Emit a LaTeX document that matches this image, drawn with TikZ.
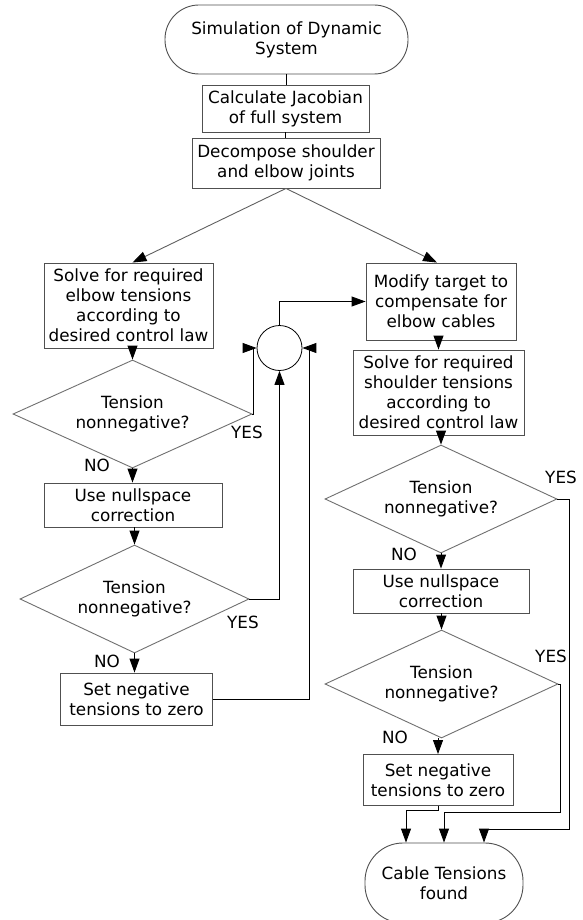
\documentclass[tikz,border=0pt]{standalone}
\usepackage{fontspec}
\setmainfont{DejaVu Sans}
\usetikzlibrary{arrows.meta,shapes.geometric}
\definecolor{boxc}{HTML}{505050}
\definecolor{diac}{HTML}{707070}
\definecolor{diagc}{HTML}{606060}
\begin{document}
\begin{tikzpicture}[x=1pt,y=-1pt,
  every node/.style={font=\fontsize{16.8}{20}\selectfont, text=black},
  box/.style={draw=boxc, line width=0.9pt, rectangle, align=center, inner sep=0pt},
  term/.style={box, rounded corners=34pt},
  decision/.style={draw=diac, line width=0.9pt, diamond, shape aspect=2.2, inner sep=0pt, align=center},
  conn/.style={line width=0.9pt, draw=black},
  arr/.style={conn, -{Triangle[length=14pt,width=10pt]}},
  diag/.style={line width=0.9pt, draw=diagc, -{Triangle[length=14pt,width=10pt,color=black,fill=black]}},
  lbl/.style={inner sep=0pt}
]
\useasboundingbox (0,0) rectangle (583,920);
\clip (0,0) rectangle (583,920);
\fill[white] (0,0) rectangle (583,920);

% top column
\node[term, minimum width=243pt, minimum height=69pt] (term1) at (286.5,39.5) {Simulation of Dynamic\\System};
\node[box, minimum width=167pt, minimum height=47pt] (jac) at (285.5,108.5) {Calculate Jacobian\\of full system};
\node[box, minimum width=188pt, minimum height=50pt] (decomp) at (286,163) {Decompose shoulder\\and elbow joints};

% left column
\node[box, minimum width=169pt, minimum height=85pt] (lsolve) at (128.5,305.5) {Solve for required\\elbow tensions\\according to\\desired control law};
\node[decision, minimum width=239pt, minimum height=108pt] (ld1) at (132.5,414) {Tension\\nonnegative?};
\node[box, minimum width=178pt, minimum height=44pt] (lnull) at (133,505) {Use nullspace\\correction};
\node[decision, minimum width=229pt, minimum height=108pt] (ld2) at (134.5,599) {Tension\\nonnegative?};
\node[box, minimum width=152pt, minimum height=52pt] (lset) at (136.5,699) {Set negative\\tensions to zero};

% junction circle
\node[draw=black, line width=0.8pt, circle, minimum size=45pt, inner sep=0pt] (circ) at (279.5,348) {};

% right column
\node[box, minimum width=150pt, minimum height=77pt] (mod) at (441,301.5) {Modify target to\\compensate for\\elbow cables};
\node[box, minimum width=171pt, minimum height=85pt] (rsolve) at (438.5,392.5) {Solve for required\\shoulder tensions\\according to\\desired control law};
\node[decision, minimum width=232pt, minimum height=108pt] (rd1) at (441,499) {Tension\\nonnegative?};
\node[box, minimum width=176pt, minimum height=44pt] (rnull) at (441,591) {Use nullspace\\correction};
\node[decision, minimum width=233pt, minimum height=108pt] (rd2) at (441.5,684) {Tension\\nonnegative?};
\node[box, minimum width=150pt, minimum height=51pt] (rset) at (438,780) {Set negative\\tensions to zero};
\node[term, rounded corners=38pt, minimum width=158pt, minimum height=80pt] (term2) at (444,883) {Cable Tensions\\found};

% labels
\node[lbl] (yes1) at (247,432) {YES};
\node[lbl] (no1) at (97,465) {NO};
\node[lbl] (yes2) at (243,622) {YES};
\node[lbl] (no2) at (107,661) {NO};
\node[lbl] (yes3) at (561,477) {YES};
\node[lbl] (no3) at (404,554) {NO};
\node[lbl] (yes4) at (551,656) {YES};
\node[lbl] (no4) at (395,737) {NO};

% top connectors
\draw[conn] (term1.south) -- (term1.south |- jac.north);
\draw[conn] (jac.south) -- (jac.south |- decomp.north);
\draw[diag] (decomp.south) -- ([xshift=4pt]lsolve.north);
\draw[diag] (decomp.south) -- ([xshift=-4pt]mod.north);

% left connectors
\draw[arr] (ld1.north |- lsolve.south) -- (ld1.north);
\draw[arr] (ld1.south) -- (ld1.south |- lnull.north);
\draw[arr] (ld2.north |- lnull.south) -- (ld2.north);
\draw[arr] (ld2.south) -- (ld2.south |- lset.north);

% loops into the circle
\draw[arr] (ld1.east) -- ++(1,0) |- (circ.west);
\draw[arr] (ld2.east) -| (circ.south);
\draw[arr] (lset.east) -| ([xshift=7pt]circ.east) -- (circ.east);
\draw[arr] (circ.north) |- (mod.west);

% right connectors
\draw[arr] (rsolve.north |- mod.south) -- (rsolve.north);
\draw[arr] (rd1.north |- rsolve.south) -- (rd1.north);
\draw[arr] (rd1.south) -- (rd1.south |- rnull.north);
\draw[arr] (rd2.north |- rnull.south) -- (rd2.north);
\draw[arr] (rset.north |- rd2.south) -- (rset.north);

% to the end terminal
\draw[arr] (rset.south) -- ++(0,4) -| ([xshift=-38pt]term2.north);
\draw[arr] (rd2.east) -- ++(1.5,0) -- ++(0,128) -| (term2.north);
\draw[arr] (rd1.east) -- ++(12,0) -- ++(0,330) -| ([xshift=40pt]term2.north);
\end{tikzpicture}
\end{document}
